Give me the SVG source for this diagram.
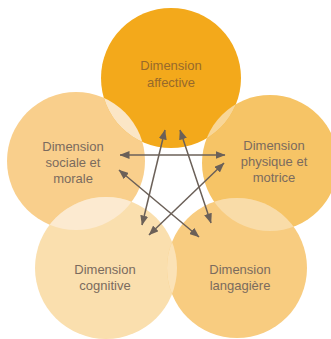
<svg xmlns="http://www.w3.org/2000/svg" width="331" height="339" viewBox="0 0 331 339">
<style>
text{font-family:"Liberation Sans",Arial,sans-serif;font-size:13px;fill:#7b6b5e;text-anchor:middle}
.top text{fill:#97692b}
.conn line{stroke:#6b6058;stroke-width:1.5;fill:none}
</style>
<defs>
<marker id="ah" viewBox="0 0 10 8" refX="9.5" refY="4" markerWidth="10" markerHeight="8" markerUnits="userSpaceOnUse" orient="auto-start-reverse">
<path d="M0,0 L10,4 L0,8 z" fill="#6b6058"/>
</marker>
<clipPath id="clTop"><circle cx="171" cy="78" r="70"/></clipPath>
<clipPath id="clLeft"><circle cx="76" cy="161" r="69"/></clipPath>
<clipPath id="clRight"><circle cx="270" cy="163" r="68"/></clipPath>
<clipPath id="clBL"><circle cx="106" cy="268" r="71"/></clipPath>
<clipPath id="clBR"><circle cx="237" cy="268" r="70"/></clipPath>
</defs>
<rect width="331" height="339" fill="#ffffff"/>
<g id="node-sociale">
<circle cx="76" cy="161" r="69" fill="#f9cf8c"/>
</g>
<g id="node-physique">
<circle cx="270" cy="163" r="68" fill="#f6c466"/>
</g>
<g id="node-cognitive">
<circle cx="106" cy="268" r="71" fill="#fadfae"/>
</g>
<g id="node-langagiere">
<circle cx="237" cy="268" r="70" fill="#f8cc80"/>
</g>
<g id="node-affective" class="top">
<circle cx="171" cy="78" r="70" fill="#f3a91b"/>
</g>
<g id="overlaps">
<circle cx="76" cy="161" r="69" fill="#fbe6c6" clip-path="url(#clTop)"/>
<circle cx="270" cy="163" r="68" fill="#f8d697" clip-path="url(#clTop)"/>
<circle cx="106" cy="268" r="71" fill="#fcead0" clip-path="url(#clLeft)"/>
<circle cx="237" cy="268" r="70" fill="#f9dca8" clip-path="url(#clRight)"/>
<circle cx="237" cy="268" r="70" fill="#fbe2b6" clip-path="url(#clBL)"/>
</g>
<g id="labels">
<g class="top"><text x="171" y="70">Dimension</text><text x="171" y="87">affective</text></g>
<text x="73" y="151">Dimension</text><text x="73" y="167">sociale et</text><text x="73" y="183">morale</text>
<text x="274" y="150">Dimension</text><text x="274" y="166">physique et</text><text x="274" y="182">motrice</text>
<text x="105" y="274">Dimension</text><text x="105" y="290">cognitive</text>
<text x="240" y="274">Dimension</text><text x="240" y="290">langagière</text>
</g>
<g id="connectors" class="conn">
<line x1="120" y1="155" x2="225" y2="155" marker-start="url(#ah)" marker-end="url(#ah)"/>
<line x1="165" y1="130" x2="142" y2="225" marker-start="url(#ah)" marker-end="url(#ah)"/>
<line x1="180" y1="130" x2="211" y2="223" marker-start="url(#ah)" marker-end="url(#ah)"/>
<line x1="119" y1="170" x2="199" y2="237" marker-start="url(#ah)" marker-end="url(#ah)"/>
<line x1="224" y1="163" x2="149" y2="235" marker-start="url(#ah)" marker-end="url(#ah)"/>
</g>
</svg>
